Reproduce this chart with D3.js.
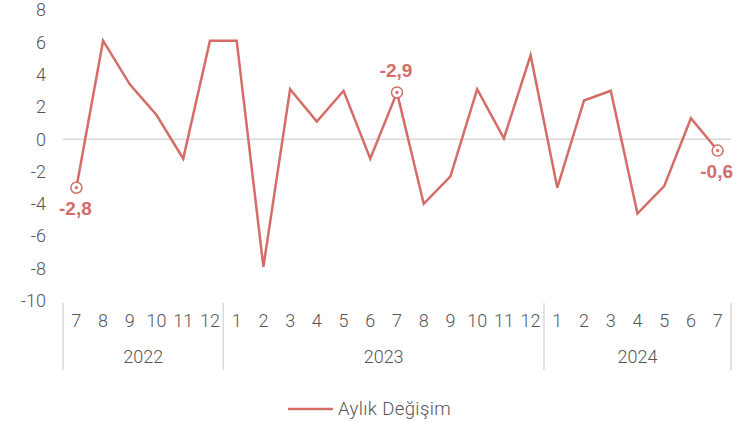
<!DOCTYPE html>
<html><head><meta charset="utf-8">
<script src="https://cdn.jsdelivr.net/npm/d3@7/dist/d3.min.js"></script>
<style>
body{margin:0;background:#fff;}
svg text{font-family:"Liberation Sans",Arial,sans-serif;}
svg text.lt{font-family:Roboto,"Liberation Sans",sans-serif;font-weight:300;}
</style></head>
<body><svg id="c" width="746" height="422"></svg>
<script>
const months = ["7","8","9","10","11","12","1","2","3","4","5","6","7","8","9","10","11","12","1","2","3","4","5","6","7"];
const years = ["2022","2023","2024"];
const yearCounts = [6,12,7];
const values = [-3.0,6.1,3.4,1.5,-1.2,6.1,6.1,-7.9,3.1,1.1,3.0,-1.2,2.9,-4.0,-2.3,3.1,0.05,5.2,-3.0,2.4,3.0,-4.6,-2.9,1.3,-0.7];
const yTicks = [8,6,4,2,0,-2,-4,-6,-8,-10];
const annotations = [{i:0,text:"-2,8",pos:"below"},{i:12,text:"-2,9",pos:"above"},{i:24,text:"-0,6",pos:"below"}];
const seriesName = "Aylık Değişim";

const red = "#d46c68", grey = "#555555";
const svg = d3.select("#c");
const x = d3.scaleBand().domain(d3.range(values.length)).range([63,731]).padding(0);
const y = d3.scaleLinear().domain([-10,8]).range([300.8,10]);

// y tick labels
svg.append("g").selectAll("text").data(yTicks).join("text").attr("class","lt")
  .attr("x",46).attr("y",d=>y(d)).attr("dy","0.35em").attr("text-anchor","end")
  .attr("fill",grey).style("font-size","18px").text(d=>d);

// zero line
svg.append("line").attr("x1",63).attr("x2",731).attr("y1",y(0)).attr("y2",y(0))
  .attr("stroke","#d9d9d9").attr("stroke-width",1.5);

// month labels
svg.append("g").selectAll("text").data(months).join("text").attr("class","lt")
  .attr("x",(d,i)=>x(i)+x.bandwidth()/2).attr("y",327).attr("text-anchor","middle")
  .attr("fill",grey).style("font-size","18px").text(d=>d);

// year groups
let starts=[0]; yearCounts.forEach((c,k)=>starts.push(starts[k]+c));
const edge = d=> d<values.length?x(d):x(values.length-1)+x.bandwidth();
svg.append("g").selectAll("line").data(starts).join("line")
  .attr("x1",edge).attr("x2",edge)
  .attr("y1",303).attr("y2",370).attr("stroke","#d9d9d9").attr("stroke-width",1.5);
svg.append("g").selectAll("text").data(years).join("text").attr("class","lt")
  .attr("x",(d,k)=>(edge(starts[k])+edge(starts[k+1]))/2)
  .attr("y",363).attr("text-anchor","middle").attr("fill",grey).style("font-size","18px").text(d=>d);

// line
const line = d3.line().x((d,i)=>x(i)+x.bandwidth()/2).y(d=>y(d));
svg.append("path").datum(values).attr("d",line).attr("fill","none")
  .attr("stroke",red).attr("stroke-width",2.5).attr("stroke-linejoin","miter");

// annotations
const ag = svg.append("g");
annotations.forEach(a=>{
  const cx = x(a.i)+x.bandwidth()/2, cy=y(values[a.i]);
  ag.append("circle").attr("cx",cx).attr("cy",cy).attr("r",5.5).attr("fill","#fff").attr("stroke",red).attr("stroke-width",1.5);
  ag.append("circle").attr("cx",cx).attr("cy",cy).attr("r",1.6).attr("fill",red);
  ag.append("text").attr("x",cx-1).attr("y",a.pos==="below"?cy+27:cy-15)
    .attr("text-anchor","middle").attr("fill",red).style("font-size","19px").style("font-weight","bold").text(a.text);
});

// legend
svg.append("line").attr("x1",288).attr("x2",333).attr("y1",409).attr("y2",409).attr("stroke",red).attr("stroke-width",2.5);
svg.append("text").attr("class","lt").attr("x",338).attr("y",414.5).attr("fill",grey).style("font-size","18.5px").style("letter-spacing","0.4px").text(seriesName);
</script></body></html>
